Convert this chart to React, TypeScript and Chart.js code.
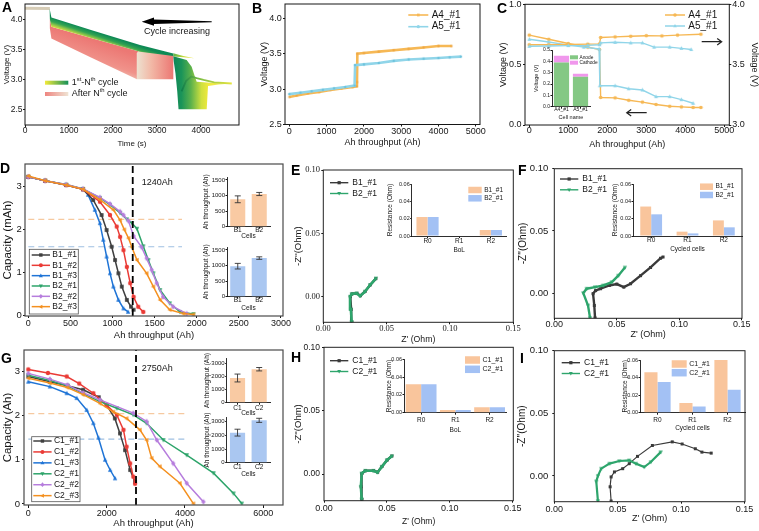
import React, { useEffect, useRef } from 'react';
import { Chart, registerables } from 'chart.js';

Chart.register(...registerables);

const SANS = "'Liberation Sans', Arial, Helvetica, sans-serif";
const SERIF = "'Liberation Serif', 'Times New Roman', Times, serif";
const INK = '#161616';
Chart.defaults.font.family = SANS;
Chart.defaults.color = INK;

type Pt = [number, number];

/* ======================= DATA ======================= */
// A  (voltage vs time, cycle families as outlined bands)
const A_ticksX = [0, 1000, 2000, 3000, 4000];
const A_ticksY = [2.5, 3.0, 3.5, 4.0];
const A_rest: Pt[] = [[0, 4.185], [565, 4.18]];
const A_greenBand: Pt[] = [[560, 4.175], [600, 4.03], [1500, 3.82], [2614, 3.57], [3371, 3.43], [3371, 3.39], [2614, 3.46], [1500, 3.69], [600, 3.877], [565, 4.0]];
const A_pinkBand: Pt[] = [[565, 4.0], [600, 3.877], [1500, 3.69], [2614, 3.46], [2545, 3.0], [1500, 3.365], [600, 3.68], [565, 3.85]];
const A_pinkStep: Pt[] = [[2540, 3.0], [2540, 3.44], [2580, 3.47], [3000, 3.45], [3371, 3.4], [3371, 3.0]];
const A_tip: Pt[] = [[3371, 3.432], [3600, 3.39], [3850, 3.352], [3600, 3.366], [3371, 3.38]];
const A_knee: Pt[] = [[3371, 3.385], [3674, 3.32], [3788, 3.21], [3864, 3.04], [3902, 2.96], [4300, 2.94], [4700, 2.928], [4400, 2.912], [4160, 2.89], [4130, 2.5], [3490, 2.5], [3460, 2.8], [3420, 3.1], [3380, 3.3]];
const A_hump: Pt[] = [[3560, 2.8], [3660, 2.97], [3780, 3.045], [3900, 3.02], [4060, 2.99], [4300, 2.95], [4700, 2.93]];

// B
const B_ticksX = [0, 1000, 2000, 3000, 4000, 5000];
const B_ticksY = [2.5, 3.0, 3.5, 4.0];
const B_A4: Pt[] = [[0, 2.89], [200, 2.91], [500, 2.94], [800, 2.96], [1100, 2.99], [1400, 3.01], [1700, 3.03], [1800, 3.04], [1815, 3.1], [1825, 3.5], [2000, 3.51], [2400, 3.53], [2800, 3.55], [3200, 3.57], [3600, 3.59], [4000, 3.61], [4350, 3.61]];
const B_A5: Pt[] = [[0, 2.93], [300, 2.95], [600, 2.97], [900, 2.99], [1200, 3.01], [1500, 3.03], [1750, 3.05], [1765, 3.34], [2000, 3.35], [2400, 3.37], [2800, 3.4], [3200, 3.42], [3600, 3.43], [4000, 3.44], [4300, 3.45], [4600, 3.46]];

// C
const C_ticksX = [0, 1000, 2000, 3000, 4000, 5000];
const C_ticksL = [0, 0.5, 1.0];
const C_ticksR = [3.0, 3.5, 4.0];
const C_A4_low: Pt[] = [[0, 0.745], [500, 0.71], [1000, 0.675], [1500, 0.645], [1800, 0.625], [1830, 0.228], [2200, 0.225], [2550, 0.205], [2900, 0.19], [3250, 0.17], [3600, 0.155], [3900, 0.15], [4200, 0.145], [4400, 0.145]];
const C_A5_low: Pt[] = [[0, 0.71], [500, 0.688], [1000, 0.662], [1400, 0.645], [1790, 0.63], [1810, 0.325], [2200, 0.325], [2550, 0.3], [2900, 0.29], [3250, 0.235], [3600, 0.235], [3900, 0.21], [4200, 0.18]];
const C_A4_high: Pt[] = [[0, 3.665], [500, 3.665], [1000, 3.667], [1500, 3.67], [1800, 3.672], [1830, 3.725], [2200, 3.73], [2600, 3.735], [3000, 3.74], [3400, 3.738], [3800, 3.745], [4400, 3.752]];
const C_A5_high: Pt[] = [[0, 3.652], [500, 3.655], [1000, 3.658], [1500, 3.66], [1800, 3.665], [1830, 3.68], [2200, 3.685], [2600, 3.68], [2900, 3.68], [3200, 3.645], [3600, 3.645], [3900, 3.635], [4150, 3.625]];
const C_cells = ['A4_#1', 'A5_#1'];
const C_anode = [0.39, 0.265];
const C_cathode = [0.06, 0.025];
const C_inTicks = [0, 0.1, 0.2, 0.3, 0.4, 0.5];

// D
const D_ticksX = [0, 500, 1000, 1500, 2000, 2500, 3000];
const D_ticksY = [0, 1, 2, 3];
const D_B1_1: Pt[] = [[0, 3.23], [200, 3.14], [450, 3.04], [650, 2.94], [770, 2.69], [870, 2.34], [930, 1.99], [990, 1.6], [1030, 1.29], [1070, 0.98], [1110, 0.67], [1170, 0.36], [1220, 0.2], [1250, 0.13]];
const D_B1_2: Pt[] = [[0, 3.23], [200, 3.14], [450, 3.04], [650, 2.94], [850, 2.65], [970, 2.34], [1050, 2.07], [1090, 1.83], [1130, 1.52], [1170, 1.13], [1210, 0.75], [1250, 0.43], [1305, 0.2], [1365, 0.08]];
const D_B1_3: Pt[] = [[0, 3.23], [200, 3.14], [450, 3.04], [650, 2.94], [710, 2.81], [790, 2.46], [850, 2.15], [890, 1.76], [930, 1.37], [970, 0.98], [1010, 0.67], [1070, 0.36], [1130, 0.16], [1185, 0.08]];
const D_B2_1: Pt[] = [[0, 3.23], [200, 3.14], [450, 3.05], [650, 2.95], [850, 2.74], [970, 2.58], [1090, 2.39], [1170, 2.24], [1230, 2.15], [1290, 2.02], [1365, 1.61], [1425, 1.29], [1485, 0.98], [1565, 0.59], [1680, 0.28], [1800, 0.08], [1960, 0.03]];
const D_B2_2: Pt[] = [[0, 3.23], [200, 3.14], [450, 3.05], [650, 2.95], [850, 2.75], [970, 2.6], [1090, 2.42], [1130, 2.34], [1190, 2.2], [1250, 1.85], [1345, 1.59], [1405, 1.33], [1465, 1.06], [1525, 0.75], [1600, 0.43], [1720, 0.2], [1880, 0.04]];
const D_B2_3: Pt[] = [[0, 3.25], [200, 3.14], [450, 3.04], [650, 2.94], [850, 2.7], [1010, 2.46], [1090, 2.22], [1140, 2.0], [1190, 1.8], [1230, 1.59], [1290, 1.29], [1405, 0.98], [1485, 0.67], [1565, 0.36], [1680, 0.13], [1840, 0.04], [1960, 0.02]];
const D_cut = 1240;
const D_eolOrange = 2.24;
const D_eolBlue = 1.6;
const D_eolEnd = 1825;
const D_cells = ['B1', 'B2'];
const D_top = [880, 1050];
const D_topErr = [110, 50];
const D_bot = [980, 1240];
const D_botErr = [90, 40];
const D_inTicks = [0, 500, 1000, 1500];

// E, F, H, I  (Nyquist + resistance insets)
const Z_ticksX = [0, 0.05, 0.1, 0.15];
const Z_ticksY = [0, 0.05, 0.1];
const R_cats = ['R0', 'R1', 'R2'];
const R_ticks = [0, 0.02, 0.04, 0.06];
const E_B1: Pt[] = [[0.0226, -0.02], [0.022, -0.01], [0.0213, 0.0], [0.0227, 0.0022], [0.0265, 0.0027], [0.0292, 0.0008], [0.033, 0.0042], [0.037, 0.0093], [0.0415, 0.0143]];
const E_B2: Pt[] = [[0.0224, -0.02], [0.0218, -0.01], [0.0211, 0.0], [0.0225, 0.0022], [0.0263, 0.0027], [0.029, 0.0006], [0.0329, 0.004], [0.0369, 0.0092], [0.0416, 0.0145]];
const E_R_B1 = [0.022, 0.0, 0.007];
const E_R_B2 = [0.022, 0.0, 0.007];
const F_B1: Pt[] = [[0.0326, -0.02], [0.032, -0.01], [0.031, -0.0005], [0.033, 0.002], [0.037, 0.0035], [0.044, 0.0061], [0.05, 0.0072], [0.0556, 0.0048], [0.061, 0.0075], [0.069, 0.014], [0.077, 0.0206], [0.085, 0.028], [0.087, 0.029]];
const F_B2: Pt[] = [[0.0286, -0.02], [0.027, -0.01], [0.0232, 0.0], [0.0259, 0.0035], [0.0326, 0.0048], [0.0392, 0.0061], [0.046, 0.0088], [0.0512, 0.014], [0.0565, 0.0206]];
const F_R_B1 = [0.034, 0.005, 0.018];
const F_R_B2 = [0.025, 0.003, 0.01];
const H_C1: Pt[] = [[0.0302, -0.02], [0.0295, -0.01], [0.0302, 0.0005], [0.0329, 0.0026], [0.0394, 0.0027], [0.0426, 0.0015], [0.0461, 0.006], [0.0502, 0.0111], [0.054, 0.0143]];
const H_C2: Pt[] = [[0.03, -0.02], [0.0293, -0.01], [0.03, 0.0005], [0.0327, 0.0026], [0.0393, 0.0026], [0.0425, 0.0013], [0.046, 0.0058], [0.05, 0.011], [0.054, 0.0142]];
const H_R_C1 = [0.032, 0.003, 0.006];
const H_R_C2 = [0.032, 0.003, 0.006];
const I_C1: Pt[] = [[0.0448, -0.02], [0.044, -0.0087], [0.0448, -0.0008], [0.0474, 0.0032], [0.0539, 0.0058], [0.0591, 0.0098], [0.0656, 0.0156], [0.0773, 0.0243], [0.093, 0.0272], [0.1008, 0.0255], [0.1112, 0.0217], [0.1164, 0.019], [0.1237, 0.0182]];
const I_C2: Pt[] = [[0.0344, -0.02], [0.0331, -0.0044], [0.0344, 0.0], [0.037, 0.0058], [0.0435, 0.0098], [0.0513, 0.0119], [0.0591, 0.0124], [0.0644, 0.0098], [0.0709, 0.0071], [0.0761, 0.0111], [0.0839, 0.019]];
const I_R_C1 = [0.046, 0.011, 0.06];
const I_R_C2 = [0.035, 0.007, 0.026];

// G
const G_ticksX = [0, 2000, 4000, 6000];
const G_ticksY = [0, 1, 2, 3];
const G_C1_1: Pt[] = [[0, 2.89], [550, 2.77], [1000, 2.68], [1400, 2.59], [1800, 2.42], [2000, 2.24], [2210, 1.94], [2340, 1.6], [2470, 1.22], [2600, 0.77], [2725, 0.5]];
const G_C1_2: Pt[] = [[0, 3.05], [500, 2.97], [980, 2.89], [1300, 2.73], [1660, 2.51], [2000, 2.24], [2260, 2.02], [2430, 1.68], [2510, 1.3], [2600, 0.92], [2680, 0.62], [2725, 0.46]];
const G_C1_3: Pt[] = [[0, 2.77], [550, 2.66], [980, 2.51], [1235, 2.4], [1490, 2.13], [1660, 1.83], [1790, 1.5], [1960, 1.0], [2090, 0.77], [2215, 0.58]];
const G_C2_1: Pt[] = [[0, 2.92], [550, 2.8], [1000, 2.68], [1400, 2.5], [1830, 2.32], [2260, 2.17], [2680, 2.02], [3020, 1.83], [3450, 1.45], [4045, 1.11], [4730, 0.7], [5240, 0.24], [5450, 0.01]];
const G_C2_2: Pt[] = [[0, 2.96], [550, 2.83], [1000, 2.7], [1400, 2.52], [1830, 2.36], [2680, 2.06], [3020, 1.87], [3280, 1.45], [3700, 0.92], [4045, 0.47], [4470, 0.05]];
const G_C2_3: Pt[] = [[0, 2.85], [550, 2.74], [1000, 2.64], [1400, 2.48], [1830, 2.28], [2170, 2.09], [2510, 1.94], [2850, 1.68], [3020, 1.45], [3150, 1.04], [3360, 0.85], [3870, 0.47], [4215, 0.01]];
const G_cut = 2750;
const G_eolOrange = 2.05;
const G_eolBlue = 1.47;
const G_eolEnd = 4000;
const G_cells = ['C1', 'C2'];
const G_top = [1880, 2550];
const G_topErr = [300, 130];
const G_bot = [2200, 3100];
const G_botErr = [250, 150];
const G_inTicks = [0, 1000, 2000, 3000];

/* ======================= STYLE ======================= */
const COL = { gray: '#3f3f3f', red: '#ea3b36', blue: '#1f74d6', green: '#2da46a', purple: '#b67ddd', orange: '#f4901f' };
const NYQ = { gray: '#3a3a3a', green: '#2ea56c' };
const RES = { orange: '#f9c59c', blue: '#a3c1f4' };
const THR = { orange: '#f9caa3', blue: '#aac7f1' };
const AB = { orange: '#f6b855', blue: '#90d5e9' };

/* ======================= HELPERS ======================= */
const xy = (a: Pt[]) => a.map((p) => ({ x: p[0], y: p[1] }));
const f1 = (v: number) => v.toFixed(1);
const f2 = (v: number) => v.toFixed(2);
const f0 = (v: number) => String(Math.round(v));

interface Geo { L: number; T: number; R: number; B: number; yTitleX: number; yTfs: number; xTitleY: number; xTfs: number; rTitleX?: number; rTfs?: number; padT?: number; padR?: number }
interface Rect { left: number; top: number; width: number; height: number; yW: number; xH: number; rW: number; padT: number; padR: number }

function rectOf(g: Geo): Rect {
  const left = Math.round(g.yTitleX - g.yTfs * 0.6);
  const top = Math.round(g.T - (g.padT ?? 8));
  const bottom = Math.round(g.xTitleY + g.xTfs * 0.6);
  const hasR = g.rTitleX != null;
  const right = hasR ? Math.round((g.rTitleX as number) + (g.rTfs ?? 9) * 0.6) : Math.round(g.R + (g.padR ?? 15));
  return { left, top, width: right - left, height: bottom - top, yW: g.L - left, xH: bottom - g.B, rW: hasR ? right - g.R : 0, padT: g.T - top, padR: hasR ? 0 : right - g.R };
}

interface AxisSpec { min: number; max: number; ticks: number[]; fmt?: (v: number) => string; title: string; tfs: number; fs?: number; fam?: string; tl?: number; tp?: number; border?: boolean }

function linAxis(a: AxisSpec, size: number, pos: string) {
  return {
    type: 'linear', position: pos, min: a.min, max: a.max, bounds: 'data',
    afterFit: (s: any) => { if (pos === 'bottom') s.height = size; else s.width = size; },
    afterBuildTicks: (s: any) => { s.ticks = a.ticks.map((v) => ({ value: v })); },
    ticks: { color: INK, font: { size: a.fs ?? 9, family: a.fam ?? SANS }, padding: a.tp ?? 1, autoSkip: false, maxRotation: 0, minRotation: 0, callback: (v: any) => (a.fmt ? a.fmt(Number(v)) : String(v)) },
    grid: { drawOnChartArea: false, drawTicks: true, tickLength: a.tl ?? 2, tickColor: INK, tickWidth: 1, color: INK },
    border: { display: !!a.border, color: INK, width: 0.9 },
    title: { display: true, text: a.title, color: INK, font: { size: a.tfs, family: SANS }, padding: 0 },
  };
}

function base(r: Rect) {
  return {
    responsive: false, maintainAspectRatio: false, animation: false, events: [],
    layout: { padding: { left: 0, top: r.padT, right: r.padR, bottom: 0 } },
    plugins: { legend: { display: false }, tooltip: { enabled: false }, title: { display: false } },
  };
}

function mark(ctx: CanvasRenderingContext2D, style: string, x: number, y: number, r: number, color: string) {
  ctx.beginPath();
  if (style === 'circle') ctx.arc(x, y, r, 0, Math.PI * 2);
  else if (style === 'rect') ctx.rect(x - r * 0.85, y - r * 0.85, r * 1.7, r * 1.7);
  else if (style === 'diamond') { ctx.moveTo(x, y - r * 1.2); ctx.lineTo(x + r, y); ctx.lineTo(x, y + r * 1.2); ctx.lineTo(x - r, y); }
  else if (style === 'tri') { ctx.moveTo(x, y - r * 1.1); ctx.lineTo(x + r, y + r * 0.75); ctx.lineTo(x - r, y + r * 0.75); }
  else if (style === 'triD') { ctx.moveTo(x, y + r * 1.1); ctx.lineTo(x + r, y - r * 0.75); ctx.lineTo(x - r, y - r * 0.75); }
  else if (style === 'triL') { ctx.moveTo(x - r * 1.1, y); ctx.lineTo(x + r * 0.75, y - r); ctx.lineTo(x + r * 0.75, y + r); }
  ctx.closePath();
  ctx.fillStyle = color;
  ctx.fill();
}

function markerImg(style: string, r: number, color: string) {
  const s = Math.ceil(r * 2.5 + 2);
  const c = document.createElement('canvas');
  c.width = s; c.height = s;
  mark(c.getContext('2d') as CanvasRenderingContext2D, style, s / 2, s / 2, r, color);
  return c;
}

function ser(pts: Pt[], color: string, o: { w?: number; ps?: string; r?: number; mc?: string; axis?: string; dash?: number[] } = {}) {
  const ds: any = { data: xy(pts), borderColor: color, backgroundColor: color, borderWidth: o.w ?? 1.5, tension: 0, fill: false, pointRadius: 0, pointHoverRadius: 0 };
  if (o.ps) { ds.pointStyle = markerImg(o.ps, o.r ?? 2, o.mc ?? color); ds.pointRadius = o.r ?? 2; }
  if (o.axis) ds.yAxisID = o.axis;
  if (o.dash) ds.borderDash = o.dash;
  return ds;
}

function frame(color: string, w: number) {
  return {
    id: 'frame',
    afterDatasetsDraw(ch: any) {
      const { ctx, chartArea: a } = ch;
      ctx.save(); ctx.strokeStyle = color; ctx.lineWidth = w;
      ctx.strokeRect(a.left, a.top, a.right - a.left, a.bottom - a.top);
      ctx.restore();
    },
  };
}

function annot(r: Rect, fn: (ctx: CanvasRenderingContext2D, X: (v: number) => number, Y: (v: number, id?: string) => number) => void) {
  return {
    id: 'annot',
    afterDraw(ch: any) {
      const ctx = ch.ctx as CanvasRenderingContext2D;
      ctx.save(); ctx.translate(-r.left, -r.top);
      const X = (v: number) => ch.scales.x.getPixelForValue(v) + r.left;
      const Y = (v: number, id = 'y') => ch.scales[id].getPixelForValue(v) + r.top;
      fn(ctx, X, Y);
      ctx.restore();
    },
  };
}

function text(ctx: CanvasRenderingContext2D, s: string, x: number, y: number, fs: number, align: CanvasTextAlign = 'left') {
  ctx.font = `${fs}px ${SANS}`; ctx.fillStyle = INK; ctx.textAlign = align; ctx.textBaseline = 'middle';
  ctx.fillText(s, x, y);
}

function runs(ctx: CanvasRenderingContext2D, parts: [string, boolean][], x: number, y: number, fs: number) {
  let cx = x;
  for (const [t, sup] of parts) {
    const f = sup ? fs * 0.65 : fs;
    ctx.font = `${f}px ${SANS}`; ctx.fillStyle = INK; ctx.textAlign = 'left'; ctx.textBaseline = 'middle';
    ctx.fillText(t, cx, sup ? y - fs * 0.4 : y);
    cx += ctx.measureText(t).width;
  }
}

interface LegItem { label: string; color: string; ps?: string }
function lineLegend(ctx: CanvasRenderingContext2D, items: LegItem[], x: number, y: number, o: { len: number; row: number; fs: number; gap: number; r: number; lw: number }) {
  items.forEach((it, i) => {
    const cy = y + i * o.row;
    ctx.strokeStyle = it.color; ctx.lineWidth = o.lw;
    ctx.beginPath(); ctx.moveTo(x, cy); ctx.lineTo(x + o.len, cy); ctx.stroke();
    if (it.ps) mark(ctx, it.ps, x + o.len / 2, cy, o.r, it.color);
    text(ctx, it.label, x + o.len + o.gap, cy, o.fs);
  });
}
function boxLegend(ctx: CanvasRenderingContext2D, items: LegItem[], x: number, y: number, o: { w: number; h: number; row: number; fs: number; gap: number }) {
  items.forEach((it, i) => {
    const cy = y + i * o.row;
    ctx.fillStyle = it.color; ctx.fillRect(x, cy - o.h / 2, o.w, o.h);
    text(ctx, it.label, x + o.w + o.gap, cy, o.fs);
  });
}

function lineChart(r: Rect, datasets: any[], x: AxisSpec, y: AxisSpec, plugins: any[], y2?: AxisSpec, fc = INK, fw = 1) {
  const scales: any = { x: linAxis(x, r.xH, 'bottom'), y: linAxis(y, r.yW, 'left') };
  if (y2) scales.y2 = linAxis(y2, r.rW, 'right');
  return { type: 'line', data: { datasets }, options: { ...base(r), scales }, plugins: [frame(fc, fw), ...plugins] };
}

function barInset(r: Rect, labels: string[], sets: any[], y: AxisSpec, x: { title: string; tfs: number; fs: number; tp: number }, o: { cp: number; stacked?: boolean; plugins?: any[] }) {
  const yAx: any = linAxis({ ...y, border: true }, r.yW, 'left');
  yAx.stacked = !!o.stacked;
  return {
    type: 'bar',
    data: { labels, datasets: sets.map((s) => ({ ...s, categoryPercentage: o.cp, barPercentage: 1, borderWidth: 0 })) },
    options: {
      ...base(r),
      scales: {
        x: {
          type: 'category', offset: true, stacked: !!o.stacked,
          afterFit: (s: any) => { s.height = r.xH; },
          ticks: { color: INK, font: { size: x.fs, family: SANS }, padding: x.tp, maxRotation: 0, minRotation: 0, autoSkip: false },
          grid: { offset: false, drawOnChartArea: false, drawTicks: true, tickLength: 2, tickColor: INK },
          border: { display: true, color: INK, width: 0.9 },
          title: { display: true, text: x.title, color: INK, font: { size: x.tfs, family: SANS }, padding: 0 },
        },
        y: yAx,
      },
    },
    plugins: o.plugins ?? [],
  };
}

function errBars(vals: number[], errs: number[]) {
  return {
    id: 'err',
    afterDatasetsDraw(ch: any) {
      const ctx = ch.ctx; const sy = ch.scales.y; const meta = ch.getDatasetMeta(0);
      ctx.save(); ctx.strokeStyle = '#333'; ctx.lineWidth = 0.9;
      meta.data.forEach((bar: any, i: number) => {
        const x = bar.x; const y1 = sy.getPixelForValue(vals[i] + errs[i]); const y2 = sy.getPixelForValue(vals[i] - errs[i]);
        ctx.beginPath();
        ctx.moveTo(x, y1); ctx.lineTo(x, y2);
        ctx.moveTo(x - 3, y1); ctx.lineTo(x + 3, y1);
        ctx.moveTo(x - 3, y2); ctx.lineTo(x + 3, y2);
        ctx.stroke();
      });
      ctx.restore();
    },
  };
}

/* ======================= PANELS ======================= */
const GA: Geo = { L: 25, T: 4, R: 239, B: 125, yTitleX: 7, yTfs: 8, xTitleY: 144, xTfs: 8 };
function makeA(r: Rect) {
  const clear = 'rgba(0,0,0,0)';
  const stops = (g: CanvasGradient, s: [number, string][]) => { s.forEach((p) => g.addColorStop(p[0], p[1])); return g; };
  const perp = (p: Pt, dx: number, dy: number, s: [number, string][]) => (c: any) => {
    const ch = c.chart; if (!ch.chartArea) return clear;
    const x0 = ch.scales.x.getPixelForValue(p[0]); const y0 = ch.scales.y.getPixelForValue(p[1]);
    return stops(ch.ctx.createLinearGradient(x0, y0, x0 + dx, y0 + dy), s);
  };
  const horiz = (pts: Pt[], s: [number, string][]) => (c: any) => {
    const ch = c.chart; if (!ch.chartArea) return clear;
    const xs = pts.map((p) => p[0]);
    return stops(ch.ctx.createLinearGradient(ch.scales.x.getPixelForValue(Math.min(...xs)), 0, ch.scales.x.getPixelForValue(Math.max(...xs)), 0), s);
  };
  const poly = (pts: Pt[], bg: any) => ({ data: xy(pts), fill: 'shape', backgroundColor: bg, borderColor: clear, borderWidth: 0, pointRadius: 0 });
  const datasets = [
    { data: xy(A_hump), borderColor: horiz(A_hump, [[0, '#0f7e4b'], [0.35, '#7dbd45'], [1, '#e6e43e']]), borderWidth: 1.8, pointRadius: 0, fill: false },
    poly(A_tip, horiz(A_tip, [[0, '#5cb24a'], [0.5, '#c9dc3c'], [1, '#f0e83a']])),
    poly(A_knee, horiz(A_knee, [[0, '#0e8658'], [0.14, '#1b9459'], [0.3, '#5bb14b'], [0.48, '#cfe03e'], [0.6, '#efe93c'], [1, '#f2ef6e']])),
    poly(A_greenBand, perp(A_greenBand[1], -2.8, 8.6, [[0, '#0f8a55'], [0.4, '#34a451'], [0.75, '#9fcb48'], [1, '#e3e23e']])),
    poly(A_pinkStep, horiz(A_pinkStep, [[0, '#ede1d0'], [0.4, '#f2b8a6'], [1, '#ec7773']])),
    poly(A_pinkBand, perp(A_pinkBand[1], -9.5, 29, [[0, '#ec7874'], [0.6, '#f0928a'], [1, '#f0d8c6']])),
    { data: xy(A_rest), borderColor: '#d6ccb6', borderWidth: 3, pointRadius: 0, fill: false },
  ];
  return lineChart(r, datasets,
    { min: 0, max: 4864, ticks: A_ticksX, fs: 8.5, tl: 2, tp: -1, title: 'Time (s)', tfs: 8 },
    { min: 2.238, max: 4.255, ticks: A_ticksY, fmt: f1, fs: 8.5, tl: 2, tp: 0.5, title: 'Voltage (V)', tfs: 8 },
    [annot(r, (ctx) => {
      const sw = (x0: number, x1: number, y: number, c0: string, c1: string) => {
        const g = ctx.createLinearGradient(x0, 0, x1, 0); g.addColorStop(0, c0); g.addColorStop(1, c1);
        ctx.strokeStyle = g; ctx.lineWidth = 4; ctx.beginPath(); ctx.moveTo(x0, y); ctx.lineTo(x1, y); ctx.stroke();
      };
      sw(45, 68.3, 82.7, '#f2ea3a', '#159059');
      sw(45, 68.3, 94, '#ee8580', '#efe4d4');
      runs(ctx, [['1', false], ['st', true], ['-N', false], ['th', true], [' cycle', false]], 71.7, 82.7, 9);
      runs(ctx, [['After N', false], ['th', true], [' cycle', false]], 71.7, 94, 9);
      ctx.fillStyle = '#000';
      ctx.beginPath();
      ctx.moveTo(141.7, 21.7); ctx.lineTo(154, 17.6); ctx.lineTo(154, 19.4); ctx.lineTo(211.7, 21.2);
      ctx.lineTo(211.7, 22.2); ctx.lineTo(154, 24.0); ctx.lineTo(154, 25.8); ctx.closePath(); ctx.fill();
      text(ctx, 'Cycle increasing', 177, 32, 9, 'center');
    })]);
}

const GB: Geo = { L: 285, T: 4, R: 480, B: 124.5, yTitleX: 264, yTfs: 9, xTitleY: 143, xTfs: 9 };
function makeB(r: Rect) {
  const ds = [
    ser(B_A5, AB.blue, { w: 2.6, ps: 'circle', r: 1.3, mc: '#6fc3dc' }),
    ser(B_A4, AB.orange, { w: 2.6, ps: 'rect', r: 1.2, mc: '#eda540' }),
  ];
  return lineChart(r, ds,
    { min: -115, max: 5113, ticks: B_ticksX, fs: 9, tl: 2, tp: 0, title: 'Ah throughput (Ah)', tfs: 9 },
    { min: 2.5, max: 4.204, ticks: B_ticksY, fmt: f1, fs: 9, tl: 2, tp: 1.3, title: 'Voltage (V)', tfs: 9 },
    [annot(r, (ctx) => lineLegend(ctx, [{ label: 'A4_#1', color: AB.orange, ps: 'rect' }, { label: 'A5_#1', color: AB.blue, ps: 'circle' }], 408.3, 15, { len: 20, row: 11.7, fs: 10, gap: 3.4, r: 1.6, lw: 1.6 }))]);
}

const GC: Geo = { L: 525, T: 4.3, R: 729.3, B: 125, yTitleX: 503, yTfs: 9, xTitleY: 145, xTfs: 9, rTitleX: 755, rTfs: 9 };
function makeC(r: Rect) {
  const ds = [
    ser(C_A5_high, AB.blue, { w: 1.4, ps: 'tri', r: 2, axis: 'y2' }),
    ser(C_A4_high, AB.orange, { w: 1.4, ps: 'circle', r: 1.8, axis: 'y2' }),
    ser(C_A5_low, AB.blue, { w: 1.4, ps: 'tri', r: 2, axis: 'y' }),
    ser(C_A4_low, AB.orange, { w: 1.4, ps: 'circle', r: 1.8, axis: 'y' }),
  ];
  return lineChart(r, ds,
    { min: -110, max: 5128, ticks: C_ticksX, fs: 9, tl: 2, tp: -1.4, title: 'Ah throughput (Ah)', tfs: 9 },
    { min: 0, max: 1, ticks: C_ticksL, fmt: f1, fs: 9, tl: 2, tp: 1.5, title: 'Voltage (V)', tfs: 9 },
    [annot(r, (ctx) => {
      lineLegend(ctx, [{ label: 'A4_#1', color: AB.orange, ps: 'circle' }, { label: 'A5_#1', color: AB.blue, ps: 'tri' }], 665, 15, { len: 20, row: 11, fs: 10, gap: 3.3, r: 1.8, lw: 1.5 });
      ctx.strokeStyle = '#222'; ctx.lineWidth = 1.2;
      ctx.beginPath(); ctx.moveTo(701.7, 41.7); ctx.lineTo(721.7, 41.7); ctx.moveTo(717.2, 38.4); ctx.lineTo(721.7, 41.7); ctx.lineTo(717.2, 45); ctx.stroke();
      ctx.beginPath(); ctx.moveTo(646.7, 112.7); ctx.lineTo(626.7, 112.7); ctx.moveTo(631.2, 109.4); ctx.lineTo(626.7, 112.7); ctx.lineTo(631.2, 116); ctx.stroke();
    })],
    { min: 3, max: 4, ticks: C_ticksR, fmt: f1, fs: 9, tl: 2, tp: 1, title: 'Voltage (V)', tfs: 9 });
}

const GCin: Geo = { L: 552, T: 50, R: 590, B: 106.7, yTitleX: 536.7, yTfs: 5.5, xTitleY: 117.3, xTfs: 5.5, padT: 5, padR: 22 };
function makeCin(r: Rect) {
  const sets = [
    { label: 'Anode', data: C_anode, backgroundColor: '#84c884', stack: 's' },
    { label: 'Cathode', data: C_cathode, backgroundColor: '#f097ec', stack: 's' },
  ];
  return barInset(r, C_cells, sets,
    { min: 0, max: 0.5, ticks: C_inTicks, fmt: f1, fs: 5, tl: 1.5, tp: 0.5, title: 'Voltage (V)', tfs: 5.5 },
    { title: 'Cell name', tfs: 5.5, fs: 5, tp: -2 },
    { cp: 0.8, stacked: true, plugins: [annot(r, (ctx) => boxLegend(ctx, [{ label: 'Anode', color: '#84c884' }, { label: 'Cathode', color: '#f097ec' }], 570, 57.3, { w: 8, h: 4, row: 5.4, fs: 4.8, gap: 1.5 }))] });
}

function capChart(r: Rect, curves: { pts: Pt[]; color: string; ps: string; label: string }[], x: AxisSpec, y: AxisSpec, cut: number, eol: [number, number], eolEnd: number, leg: { bx: number; by: number; bw: number; bh: number; x: number; y: number; row: number }, cutPos: [number, number]) {
  const ds: any[] = [ser([[cut, y.min], [cut, y.max]], '#000', { w: 1.8, dash: [7, 4] })];
  const order = [5, 4, 3, 1, 0, 2];
  order.forEach((i) => ds.push(ser(curves[i].pts, curves[i].color, { w: 1.5, ps: curves[i].ps, r: 2.2 })));
  ds.push(ser([[0, eol[0]], [eolEnd, eol[0]]], '#f6c9a0', { w: 1.2, dash: [6, 4] }));
  ds.push(ser([[0, eol[1]], [eolEnd, eol[1]]], '#9fc0e2', { w: 1.2, dash: [6, 4] }));
  return lineChart(r, ds, x, y, [annot(r, (ctx) => {
    ctx.fillStyle = '#fff'; ctx.fillRect(leg.bx, leg.by, leg.bw, leg.bh);
    ctx.strokeStyle = '#555'; ctx.lineWidth = 0.8; ctx.strokeRect(leg.bx, leg.by, leg.bw, leg.bh);
    lineLegend(ctx, curves.map((c) => ({ label: c.label, color: c.color, ps: c.ps })), leg.x, leg.y, { len: 18.3, row: leg.row, fs: 8.5, gap: 2.3, r: 2, lw: 1.5 });
    text(ctx, `${cut}Ah`, cutPos[0], cutPos[1], 9);
  })], undefined, '#4a4a4a', 1.2);
}

const GD: Geo = { L: 25, T: 164, R: 283, B: 316, yTitleX: 8, yTfs: 11.5, xTitleY: 335, xTfs: 9.5 };
function makeD(r: Rect) {
  const curves = [
    { pts: D_B1_1, color: COL.gray, ps: 'rect', label: 'B1_#1' },
    { pts: D_B1_2, color: COL.red, ps: 'circle', label: 'B1_#2' },
    { pts: D_B1_3, color: COL.blue, ps: 'tri', label: 'B1_#3' },
    { pts: D_B2_1, color: COL.green, ps: 'triD', label: 'B2_#1' },
    { pts: D_B2_2, color: COL.purple, ps: 'diamond', label: 'B2_#2' },
    { pts: D_B2_3, color: COL.orange, ps: 'triL', label: 'B2_#3' },
  ];
  return capChart(r, curves,
    { min: -39, max: 3024, ticks: D_ticksX, fs: 9, tl: 2, tp: 0, title: 'Ah throughput (Ah)', tfs: 9.5 },
    { min: -0.016, max: 3.53, ticks: D_ticksY, fs: 9.5, tl: 2, tp: 1.3, title: 'Capacity (mAh)', tfs: 11.5 },
    D_cut, [D_eolOrange, D_eolBlue], D_eolEnd,
    { bx: 29.3, by: 249.3, bw: 49, bh: 64.7, x: 31.7, y: 255, row: 10.33 }, [141.7, 182.7]);
}

const GG: Geo = { L: 24, T: 350, R: 283, B: 505, yTitleX: 7.5, yTfs: 11.5, xTitleY: 523.5, xTfs: 9.5 };
function makeG(r: Rect) {
  const curves = [
    { pts: G_C1_1, color: COL.gray, ps: 'rect', label: 'C1_#1' },
    { pts: G_C1_2, color: COL.red, ps: 'circle', label: 'C1_#2' },
    { pts: G_C1_3, color: COL.blue, ps: 'tri', label: 'C1_#3' },
    { pts: G_C2_1, color: COL.green, ps: 'triD', label: 'C2_#1' },
    { pts: G_C2_2, color: COL.purple, ps: 'diamond', label: 'C2_#2' },
    { pts: G_C2_3, color: COL.orange, ps: 'triL', label: 'C2_#3' },
  ];
  return capChart(r, curves,
    { min: -110, max: 6503, ticks: G_ticksX, fs: 9, tl: 3, tp: 0.6, title: 'Ah throughput (Ah)', tfs: 9.5 },
    { min: -0.023, max: 3.49, ticks: G_ticksY, fs: 9.5, tl: 2, tp: 2, title: 'Capacity (Ah)', tfs: 11.5 },
    G_cut, [G_eolOrange, G_eolBlue], G_eolEnd,
    { bx: 31.7, by: 436.7, bw: 48.3, bh: 65, x: 33.3, y: 441, row: 10.93 }, [141.7, 368.3]);
}

function thrInset(r: Rect, cells: string[], vals: number[], errs: number[], color: string, yMax: number, ticks: number[], xtp: number) {
  return barInset(r, cells, [{ data: vals, backgroundColor: color }],
    { min: 0, max: yMax, ticks, fmt: f0, fs: 6, tl: 1.5, tp: 0.5, title: 'Ah throughput (Ah)', tfs: 6.5 },
    { title: 'Cells', tfs: 6.5, fs: 6.5, tp: xtp },
    { cp: 0.7, plugins: [errBars(vals, errs)] });
}
const GDin1: Geo = { L: 227, T: 177, R: 270, B: 226.7, yTitleX: 206, yTfs: 6.5, xTitleY: 236.5, xTfs: 6.5, padT: 6, padR: 4 };
const GDin2: Geo = { L: 227, T: 247, R: 270, B: 296.7, yTitleX: 206, yTfs: 6.5, xTitleY: 308.3, xTfs: 6.5, padT: 6, padR: 4 };
const GGin1: Geo = { L: 226.7, T: 358.3, R: 270, B: 402.7, yTitleX: 207.3, yTfs: 6.5, xTitleY: 413, xTfs: 6.5, padT: 6, padR: 4 };
const GGin2: Geo = { L: 226.7, T: 417.3, R: 270, B: 462.7, yTitleX: 207.3, yTfs: 6.5, xTitleY: 474, xTfs: 6.5, padT: 6, padR: 4 };
const makeDin1 = (r: Rect) => thrInset(r, D_cells, D_top, D_topErr, THR.orange, 1596, D_inTicks, -2.1);
const makeDin2 = (r: Rect) => thrInset(r, D_cells, D_bot, D_botErr, THR.blue, 1596, D_inTicks, -2.6);
const makeGin1 = (r: Rect) => thrInset(r, G_cells, G_top, G_topErr, THR.orange, 3381, G_inTicks, 0.1);
const makeGin2 = (r: Rect) => thrInset(r, G_cells, G_bot, G_botErr, THR.blue, 3322, G_inTicks, -0.9);

function nyq(r: Rect, sets: any[], leg: LegItem[], lx: number, ly: number, x: AxisSpec, y: AxisSpec) {
  return lineChart(r, sets, x, y, [annot(r, (ctx) => lineLegend(ctx, leg, lx, ly, { len: 18.3, row: 10.8, fs: 8.5, gap: 4, r: 1.9, lw: 1.4 }))], undefined, '#222', 1);
}

const GE: Geo = { L: 323.3, T: 170, R: 513.3, B: 322.3, yTitleX: 298.3, yTfs: 9.5, xTitleY: 339.3, xTfs: 8.7 };
function makeE(r: Rect) {
  return nyq(r, [ser(E_B2, NYQ.green, { w: 2.6, ps: 'triD', r: 2.1 }), ser(E_B1, NYQ.gray, { w: 2.4, ps: 'rect', r: 1.8 })],
    [{ label: 'B1_#1', color: NYQ.gray, ps: 'rect' }, { label: 'B2_#1', color: NYQ.green, ps: 'triD' }], 330, 182.7,
    { min: 0, max: 0.15, ticks: Z_ticksX, fmt: f2, fam: SERIF, fs: 8.5, tl: 2, tp: -1, title: "Z' (Ohm)", tfs: 8.7 },
    { min: -0.0202, max: 0.1, ticks: Z_ticksY, fmt: f2, fam: SERIF, fs: 8.5, tl: 2, tp: 1.3, title: "-Z''(Ohm)", tfs: 9.5 });
}

const GF: Geo = { L: 554.3, T: 166.7, R: 742, B: 318.3, yTitleX: 523, yTfs: 10, xTitleY: 335, xTfs: 9 };
function makeF(r: Rect) {
  return nyq(r, [ser(F_B2, NYQ.green, { w: 2.4, ps: 'triD', r: 2.1 }), ser(F_B1, NYQ.gray, { w: 2.4, ps: 'rect', r: 1.8 })],
    [{ label: 'B1_#1', color: NYQ.gray, ps: 'rect' }, { label: 'B2_#1', color: NYQ.green, ps: 'triD' }], 560, 179,
    { min: 0, max: 0.1502, ticks: Z_ticksX, fmt: f2, fs: 9, tl: 2, tp: -0.7, title: "Z' (Ohm)", tfs: 9 },
    { min: -0.0203, max: 0.1, ticks: Z_ticksY, fmt: f2, fs: 9.5, tl: 2, tp: 4, title: "-Z''(Ohm)", tfs: 10 });
}

const GH: Geo = { L: 324, T: 347.3, R: 513.3, B: 500.7, yTitleX: 298.3, yTfs: 9.5, xTitleY: 521.7, xTfs: 8.5 };
function makeH(r: Rect) {
  return nyq(r, [ser(H_C2, NYQ.green, { w: 2.6, ps: 'triD', r: 2.1 }), ser(H_C1, NYQ.gray, { w: 2.4, ps: 'rect', r: 1.8 })],
    [{ label: 'C1_#1', color: NYQ.gray, ps: 'rect' }, { label: 'C2_#1', color: NYQ.green, ps: 'triD' }], 330, 360.7,
    { min: 0, max: 0.1505, ticks: Z_ticksX, fmt: f2, fs: 9, tl: 2, tp: 0.2, title: "Z' (Ohm)", tfs: 8.5 },
    { min: -0.021, max: 0.1, ticks: Z_ticksY, fmt: f2, fs: 8.5, tl: 2, tp: 2, title: "-Z''(Ohm)", tfs: 9.5 });
}

const GI: Geo = { L: 554.3, T: 349.3, R: 745, B: 501.7, yTitleX: 521.5, yTfs: 10, xTitleY: 518.3, xTfs: 9 };
function makeI(r: Rect) {
  return nyq(r, [ser(I_C2, NYQ.green, { w: 2.2, ps: 'triD', r: 2.1 }), ser(I_C1, NYQ.gray, { w: 1.2, ps: 'rect', r: 1.8 })],
    [{ label: 'C1_#1', color: NYQ.gray, ps: 'rect' }, { label: 'C2_#1', color: NYQ.green, ps: 'triD' }], 561.7, 362.7,
    { min: 0, max: 0.1504, ticks: Z_ticksX, fmt: f2, fs: 9, tl: 2, tp: 0.2, title: "Z' (Ohm)", tfs: 9 },
    { min: -0.0206, max: 0.1, ticks: Z_ticksY, fmt: f2, fs: 9.5, tl: 2, tp: 4, title: "-Z''(Ohm)", tfs: 10 });
}

function resInset(r: Rect, a: number[], b: number[], names: [string, string], xTitle: string, xtp: number, cp: number, leg: { x: number; y: number; row: number; fs: number; w: number; h: number }) {
  const sets = [
    { label: names[0], data: a, backgroundColor: RES.orange },
    { label: names[1], data: b, backgroundColor: RES.blue },
  ];
  return barInset(r, R_cats, sets,
    { min: 0, max: 0.06, ticks: R_ticks, fmt: f2, fs: 5.5, tl: 1.5, tp: 0.5, title: 'Resistance (Ohm)', tfs: 6.5 },
    { title: xTitle, tfs: 6.5, fs: 6.5, tp: xtp },
    { cp, plugins: [annot(r, (ctx) => boxLegend(ctx, [{ label: names[0], color: RES.orange }, { label: names[1], color: RES.blue }], leg.x, leg.y, { w: leg.w, h: leg.h, row: leg.row, fs: leg.fs, gap: 2.5 }))] });
}
const GEin: Geo = { L: 411.7, T: 184, R: 506.7, B: 236, yTitleX: 390, yTfs: 6.5, xTitleY: 250, xTfs: 6.5, padT: 6, padR: 4 };
const GFin: Geo = { L: 633, T: 184, R: 742, B: 236, yTitleX: 614.5, yTfs: 6.5, xTitleY: 249.3, xTfs: 6.5, padT: 6, padR: 4 };
const GHin: Geo = { L: 404, T: 359.3, R: 506.7, B: 412.7, yTitleX: 388.5, yTfs: 6.5, xTitleY: 430, xTfs: 6.5, padT: 6, padR: 4 };
const GIin: Geo = { L: 640, T: 360, R: 745, B: 412.7, yTitleX: 625, yTfs: 6.5, xTitleY: 428.3, xTfs: 6.5, padT: 6, padR: 4 };
const makeEin = (r: Rect) => resInset(r, E_R_B1, E_R_B2, ['B1_#1', 'B2_#1'], 'BoL', -0.2, 0.7, { x: 468.3, y: 190, row: 8.3, fs: 6.5, w: 13.4, h: 6.5 });
const makeFin = (r: Rect) => resInset(r, F_R_B1, F_R_B2, ['B1_#1', 'B2_#1'], 'Cycled cells', -1.2, 0.6, { x: 700, y: 186.7, row: 8.3, fs: 6.5, w: 13, h: 6.5 });
const makeHin = (r: Rect) => resInset(r, H_R_C1, H_R_C2, ['C1_#1', 'C2_#1'], 'BoL', 1.4, 0.9, { x: 465, y: 360, row: 9.3, fs: 7, w: 15, h: 7.5 });
const makeIin = (r: Rect) => resInset(r, I_R_C1, I_R_C2, ['C1_#1', 'C2_#1'], 'Cycled cells', 1.4, 0.75, { x: 671.7, y: 364, row: 8.7, fs: 7, w: 15, h: 7.5 });

/* ======================= REACT ======================= */
function ChartBox(props: { g: Geo; make: (r: Rect) => any }) {
  const ref = useRef<HTMLCanvasElement>(null);
  const r = rectOf(props.g);
  useEffect(() => {
    if (!ref.current) return;
    const chart = new Chart(ref.current, props.make(r));
    return () => chart.destroy();
  }, []);
  return <canvas ref={ref} width={r.width} height={r.height} style={{ position: 'absolute', left: r.left, top: r.top, width: r.width, height: r.height }} />;
}

const LETTERS: [string, number, number][] = [['A', 2, 0], ['B', 252, 1], ['C', 497, 1], ['D', 0, 161], ['E', 291, 163], ['F', 518, 163], ['G', 1, 351], ['H', 291, 350], ['I', 520, 351]];

const PANELS: [Geo, (r: Rect) => any][] = [
  [GA, makeA], [GB, makeB], [GC, makeC], [GD, makeD], [GE, makeE], [GF, makeF], [GG, makeG], [GH, makeH], [GI, makeI],
  [GCin, makeCin], [GDin1, makeDin1], [GDin2, makeDin2], [GGin1, makeGin1], [GGin2, makeGin2],
  [GEin, makeEin], [GFin, makeFin], [GHin, makeHin], [GIin, makeIin],
];

export default function App() {
  return (
    <div style={{ position: 'absolute', left: 0, top: 0, width: 759, height: 531, overflow: 'hidden', background: '#fff', fontFamily: SANS }}>
      {PANELS.map(([g, mk], i) => <ChartBox key={i} g={g} make={mk} />)}
      {LETTERS.map(([t, x, y]) => (
        <div key={t} style={{ position: 'absolute', left: x, top: y, fontSize: 14, fontWeight: 'bold', lineHeight: '14px', color: '#000', fontFamily: SANS }}>{t}</div>
      ))}
    </div>
  );
}
